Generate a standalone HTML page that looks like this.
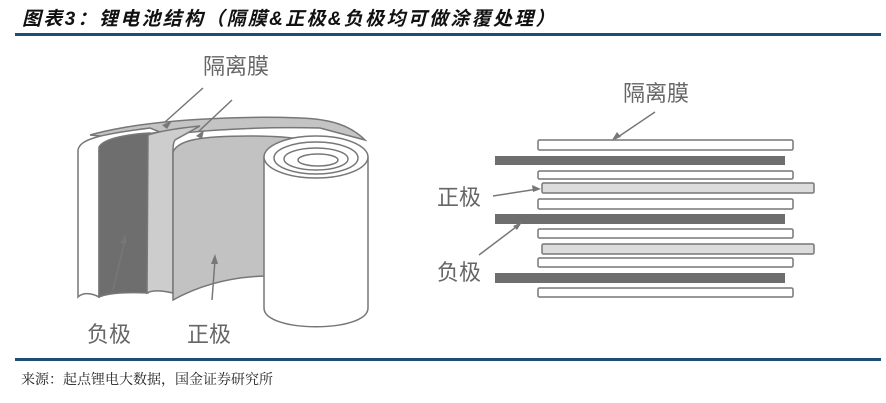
<!DOCTYPE html>
<html><head><meta charset="utf-8"><style>
html,body{margin:0;padding:0;background:#fff;width:886px;height:403px;overflow:hidden;position:relative}
.t{position:absolute;left:22px;top:4px;font:italic bold 19px "Liberation Sans","Noto Sans CJK SC",sans-serif;letter-spacing:2.3px;color:#111;white-space:nowrap}
.l1{position:absolute;left:15px;top:33px;width:866px;height:3px;background:#1d4e74}
.l2{position:absolute;left:15px;top:358px;width:866px;height:3px;background:#1d4e74}
.s{position:absolute;left:21px;top:369px;font:14px "Liberation Serif","Noto Serif CJK SC",serif;color:#222;white-space:nowrap}
svg{position:absolute;left:0;top:0}
</style></head><body>
<div class="t">图表3：锂电池结构（隔膜&amp;正极&amp;负极均可做涂覆处理）</div>
<div class="l1"></div>
<svg width="886" height="403" viewBox="0 0 886 403">
<g stroke="#777" stroke-width="1.5" fill="none">
<path d="M90,135 C150,118 250,116 300,118 C330,119 350,125 365,140 L320,128 C250,126 170,132 140,140 Z" fill="#c4c4c4"/>
<path d="M78,297 L78,150 C80,140 95,135 150,128 L160,132 C120,138 100,140 99,150 L99,297 C90,292 82,293 78,297 Z" fill="#fff"/>
<path d="M99,297 L99,147 C104,138 130,134 150,133 L148,293 C125,292 108,293 99,297 Z" fill="#6e6e6e"/>
<path d="M147,293 L148,135 C160,131 180,128 200,126 L175,140 C173,143 173,148 173,150 L173,293 C160,290 152,290 147,293 Z" fill="#cdcdcd"/>
<path d="M173,300 L173,152 C178,140 200,136 250,136 C290,136 320,140 330,150 L265,160 L265,276 C230,277 200,285 173,300 Z" fill="#c2c2c2"/>
<path d="M264,158 L264,308 C264,333 368,333 368,308 L368,158 Z" fill="#fff"/>
<ellipse cx="316" cy="157" rx="52" ry="21" fill="#fff"/>
<ellipse cx="316" cy="158" rx="42" ry="16"/>
<ellipse cx="316" cy="159" rx="32" ry="11"/>
<ellipse cx="318" cy="160" rx="20" ry="6"/>
<path d="M203,88 L165,122 M232,100 L198,132 M215,260 L212,300 M125,240 L113,290"/>
</g>
<g fill="#777"><path d="M162,125 l10,-4 l-5,8 z M196,136 l8,-6 l-2,9 z M215,254 l-4,10 l7,0 z M126,234 l-6,9 l6,1 z"/></g>
<g font-family="Liberation Sans,Noto Sans CJK SC,sans-serif" font-size="22" fill="#666">
<text x="203" y="74">隔离膜</text>
<text x="87" y="342">负极</text>
<text x="187" y="342">正极</text>
<text x="623" y="101">隔离膜</text>
<text x="437" y="205">正极</text>
<text x="437" y="280">负极</text>
</g>
<g stroke="#777" stroke-width="1.5">
<rect x="538" y="140" width="255" height="10" rx="1.5" fill="#fff"/>
<rect x="495" y="156" width="290" height="9" fill="#6e6e6e" stroke="none"/>
<rect x="538" y="171" width="255" height="8" rx="1.5" fill="#fff"/>
<rect x="542" y="183" width="272" height="10" rx="1.5" fill="#dcdcdc"/>
<rect x="538" y="199" width="255" height="10" rx="1.5" fill="#fff"/>
<rect x="495" y="214" width="290" height="10" fill="#6e6e6e" stroke="none"/>
<rect x="538" y="229" width="255" height="9" rx="1.5" fill="#fff"/>
<rect x="542" y="244" width="272" height="10" rx="1.5" fill="#dcdcdc"/>
<rect x="538" y="258" width="255" height="9" rx="1.5" fill="#fff"/>
<rect x="495" y="273" width="290" height="10" fill="#6e6e6e" stroke="none"/>
<rect x="538" y="288" width="255" height="9" rx="1.5" fill="#fff"/>
<path d="M655,112 L615,139 M493,196 L538,189 M520,224 L479,255" fill="none"/>
</g>
<g fill="#777"><path d="M612,140 l5,-8 l4,5 z M541,189 l-9,-4 l1,7 z M522,222 l-9,4 l4,4 z"/></g>
</svg>
<div class="l2"></div>
<div class="s">来源：起点锂电大数据，国金证券研究所</div>
</body></html>
